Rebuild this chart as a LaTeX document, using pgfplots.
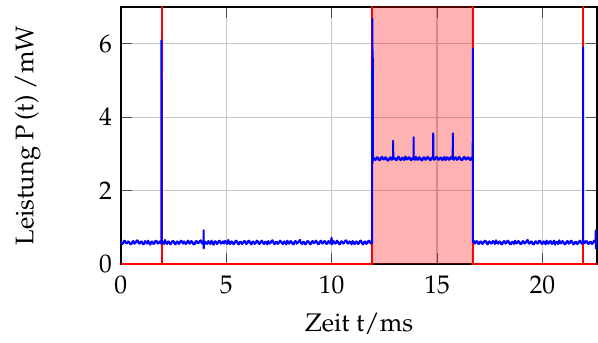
\documentclass[border=0pt]{standalone}
\usepackage[T1]{fontenc}
\usepackage{mathpazo}
\usepackage{pgfplots}
\pgfplotsset{compat=1.18}
\usepackage{pgfplotstable}

\pgfplotstableread{
x y
0.00 0.62
0.05 0.56
0.10 0.55
0.15 0.63
0.20 0.64
0.25 0.57
0.30 0.57
0.35 0.62
0.40 0.60
0.45 0.55
0.50 0.54
0.55 0.61
0.60 0.63
0.65 0.56
0.70 0.58
0.75 0.64
0.80 0.65
0.85 0.57
0.90 0.56
0.95 0.62
1.00 0.61
1.05 0.54
1.10 0.55
1.15 0.63
1.20 0.59
1.25 0.56
1.30 0.64
1.35 0.58
1.40 0.53
1.45 0.61
1.50 0.62
1.55 0.55
1.60 0.57
1.65 0.64
1.70 0.63
1.75 0.56
1.80 0.58
1.85 0.62
1.90 0.56
1.925 0.60
1.930 6.09
1.935 0.60
1.95 0.63
2.00 0.61
2.05 0.55
2.10 0.66
2.15 0.58
2.20 0.55
2.25 0.62
2.30 0.60
2.35 0.54
2.40 0.57
2.45 0.63
2.50 0.63
2.55 0.56
2.60 0.54
2.65 0.62
2.70 0.61
2.75 0.55
2.80 0.58
2.85 0.64
2.90 0.62
2.95 0.56
3.00 0.62
3.05 0.57
3.10 0.55
3.15 0.61
3.20 0.64
3.25 0.56
3.30 0.57
3.35 0.63
3.40 0.60
3.45 0.54
3.50 0.54
3.55 0.62
3.60 0.63
3.65 0.57
3.70 0.58
3.75 0.63
3.80 0.65
3.85 0.56
3.90 0.56
3.925 0.60
3.930 0.92
3.935 0.43
3.94 0.60
3.95 0.62
4.00 0.61
4.05 0.56
4.10 0.55
4.15 0.63
4.20 0.59
4.25 0.55
4.30 0.64
4.35 0.57
4.40 0.53
4.45 0.62
4.50 0.62
4.55 0.55
4.60 0.57
4.65 0.64
4.70 0.63
4.75 0.56
4.80 0.58
4.85 0.62
4.90 0.56
4.95 0.63
5.00 0.61
5.05 0.55
5.10 0.66
5.15 0.57
5.20 0.55
5.25 0.62
5.30 0.60
5.35 0.54
5.40 0.57
5.45 0.64
5.50 0.63
5.55 0.56
5.60 0.54
5.65 0.61
5.70 0.61
5.75 0.55
5.80 0.58
5.85 0.63
5.90 0.62
5.95 0.55
6.00 0.57
6.05 0.64
6.10 0.63
6.15 0.56
6.20 0.54
6.25 0.62
6.30 0.61
6.35 0.55
6.40 0.58
6.45 0.64
6.50 0.62
6.55 0.55
6.60 0.56
6.65 0.62
6.70 0.64
6.75 0.57
6.80 0.55
6.85 0.61
6.90 0.60
6.95 0.54
7.00 0.63
7.05 0.56
7.10 0.57
7.15 0.63
7.20 0.65
7.25 0.57
7.30 0.54
7.35 0.61
7.40 0.61
7.45 0.55
7.50 0.58
7.55 0.64
7.60 0.62
7.65 0.56
7.70 0.55
7.75 0.62
7.80 0.60
7.85 0.54
7.90 0.64
7.95 0.57
8.00 0.56
8.05 0.63
8.10 0.61
8.15 0.55
8.20 0.54
8.25 0.62
8.30 0.63
8.35 0.56
8.40 0.58
8.45 0.63
8.50 0.66
8.55 0.57
8.60 0.55
8.65 0.61
8.70 0.60
8.75 0.54
8.80 0.57
8.85 0.63
8.90 0.62
8.95 0.56
9.00 0.54
9.05 0.61
9.10 0.63
9.15 0.57
9.20 0.58
9.25 0.64
9.30 0.61
9.35 0.55
9.40 0.55
9.45 0.62
9.50 0.64
9.55 0.56
9.60 0.57
9.65 0.63
9.70 0.62
9.75 0.55
9.80 0.56
9.85 0.63
9.90 0.60
9.95 0.56
10.00 0.72
10.02 0.54
10.05 0.62
10.10 0.63
10.15 0.56
10.20 0.57
10.25 0.64
10.30 0.61
10.35 0.55
10.40 0.54
10.45 0.62
10.50 0.62
10.55 0.56
10.60 0.58
10.65 0.64
10.70 0.65
10.75 0.57
10.80 0.56
10.85 0.62
10.90 0.60
10.95 0.54
11.00 0.63
11.05 0.57
11.10 0.55
11.15 0.62
11.20 0.61
11.25 0.55
11.30 0.57
11.35 0.64
11.40 0.64
11.45 0.56
11.50 0.54
11.55 0.61
11.60 0.62
11.65 0.55
11.70 0.58
11.75 0.64
11.80 0.63
11.85 0.56
11.90 0.57
11.925 0.60
11.930 6.68
11.940 2.75
11.950 5.84
11.960 2.85
12.00 2.90
12.05 2.84
12.10 2.84
12.15 2.91
12.20 2.90
12.25 2.83
12.30 2.83
12.35 2.90
12.40 2.92
12.45 2.85
12.50 2.85
12.55 2.91
12.60 2.88
12.65 2.82
12.70 2.82
12.75 2.89
12.80 2.91
12.85 2.84
12.90 2.86
12.915 2.88
12.920 3.36
12.925 2.86
12.95 2.90
13.00 2.89
13.05 2.83
13.10 2.84
13.15 2.92
13.20 2.91
13.25 2.84
13.30 2.83
13.35 2.90
13.40 2.88
13.45 2.83
13.50 2.93
13.55 2.86
13.60 2.85
13.65 2.91
13.70 2.90
13.75 2.83
13.80 2.84
13.85 2.90
13.885 2.86
13.890 3.45
13.895 2.87
13.95 2.84
14.00 2.92
14.05 2.85
14.10 2.84
14.15 2.91
14.20 2.89
14.25 2.83
14.30 2.82
14.35 2.90
14.40 2.91
14.45 2.84
14.50 2.86
14.55 2.92
14.60 2.90
14.65 2.84
14.70 2.83
14.75 2.90
14.815 2.87
14.820 3.56
14.825 2.88
14.85 2.84
14.90 2.85
14.95 2.91
15.00 2.92
15.05 2.85
15.10 2.84
15.15 2.90
15.20 2.90
15.25 2.83
15.30 2.86
15.35 2.92
15.40 2.83
15.45 2.89
15.50 2.91
15.55 2.84
15.60 2.85
15.65 2.91
15.70 2.88
15.745 2.86
15.750 3.56
15.755 2.87
15.80 2.84
15.85 2.90
15.90 2.91
15.95 2.84
16.00 2.86
16.05 2.92
16.10 2.89
16.15 2.83
16.20 2.83
16.25 2.90
16.30 2.92
16.35 2.85
16.40 2.85
16.45 2.91
16.50 2.90
16.55 2.84
16.60 2.84
16.65 2.91
16.695 2.88
16.700 5.86
16.705 0.60
16.75 0.63
16.80 0.56
16.85 0.62
16.90 0.63
16.95 0.56
17.00 0.55
17.05 0.62
17.10 0.61
17.15 0.55
17.20 0.58
17.25 0.63
17.30 0.64
17.35 0.57
17.40 0.54
17.45 0.61
17.50 0.62
17.55 0.56
17.60 0.57
17.65 0.63
17.70 0.60
17.75 0.55
17.80 0.65
17.85 0.58
17.90 0.56
17.95 0.62
18.00 0.61
18.05 0.54
18.10 0.55
18.15 0.62
18.20 0.63
18.25 0.56
18.30 0.58
18.35 0.64
18.40 0.62
18.45 0.55
18.50 0.54
18.55 0.61
18.60 0.60
18.65 0.55
18.70 0.64
18.75 0.57
18.80 0.57
18.85 0.63
18.90 0.61
18.95 0.55
19.00 0.55
19.05 0.62
19.10 0.63
19.15 0.56
19.20 0.58
19.25 0.63
19.30 0.66
19.35 0.57
19.40 0.56
19.45 0.62
19.50 0.61
19.55 0.54
19.60 0.54
19.65 0.62
19.70 0.62
19.75 0.56
19.80 0.57
19.85 0.64
19.90 0.63
19.95 0.56
20.00 0.55
20.05 0.62
20.10 0.60
20.15 0.54
20.20 0.64
20.25 0.57
20.30 0.56
20.35 0.63
20.40 0.62
20.45 0.55
20.50 0.58
20.55 0.64
20.60 0.53
20.65 0.60
20.70 0.61
20.75 0.55
20.80 0.65
20.85 0.57
20.90 0.57
20.95 0.63
21.00 0.60
21.05 0.54
21.10 0.55
21.15 0.62
21.20 0.63
21.25 0.56
21.30 0.58
21.35 0.64
21.40 0.62
21.45 0.55
21.50 0.54
21.55 0.61
21.60 0.61
21.65 0.55
21.70 0.57
21.75 0.63
21.80 0.64
21.85 0.56
21.90 0.56
21.925 0.60
21.930 5.90
21.935 0.60
21.95 0.63
22.00 0.57
22.05 0.62
22.10 0.63
22.15 0.56
22.20 0.55
22.25 0.61
22.30 0.61
22.35 0.55
22.40 0.58
22.45 0.64
22.50 0.62
22.525 0.60
22.530 0.92
22.535 0.43
22.54 0.60
22.60 0.60
}\power

\pgfplotstableread{
x y
0 0
11.93 0
11.93 10
16.70 10
16.70 0
22.6 0
}\signal

\begin{document}
\begin{tikzpicture}
\begin{axis}[
  scale only axis,
  width=187pt, height=101pt,
  xmin=0, xmax=22.6,
  ymin=0, ymax=7,
  xtick={0,5,10,15,20},
  ytick={0,2,4,6},
  grid=major,
  major grid style={gray!45, line width=0.5pt},
  tick style={black!70},
  axis line style={black, line width=0.6pt},
  xlabel={Zeit t/ms},
  ylabel={Leistung P\,(t) /mW},
  every axis y label/.style={at={(axis description cs:-0.195,0.5)}, rotate=90, anchor=center},
  every axis x label/.style={at={(axis description cs:0.5,-0.23)}, anchor=center},
  xticklabel style={yshift=-1pt},
]
\addplot[draw=none, fill=red, fill opacity=0.3] coordinates {(11.93,0) (11.93,10) (16.70,10) (16.70,0)} \closedcycle;
\addplot[red, line width=0.7pt] table {\signal};
\addplot[red, line width=0.9pt] coordinates {(1.94,0) (1.94,10)};
\addplot[red, line width=0.9pt] coordinates {(21.93,0) (21.93,10)};
\addplot[blue, line width=0.8pt, line join=round] table {\power};
\end{axis}
\path ([yshift=2.7pt]current axis.north);
\path ([xshift=-47.4pt]current axis.south west);
\end{tikzpicture}
\end{document}
